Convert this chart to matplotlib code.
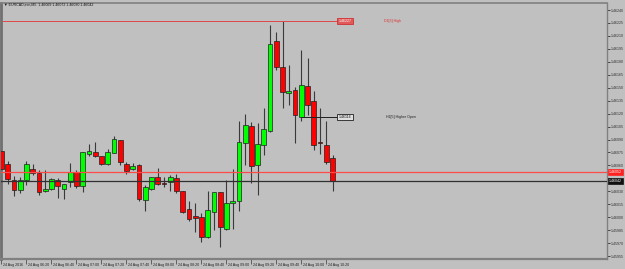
import matplotlib
matplotlib.use("Agg")
import matplotlib.pyplot as plt
import matplotlib.transforms as mtransforms
import numpy as np

plt.rcParams["font.family"] = ["Liberation Sans", "DejaVu Sans"]

# ---- data (EURCAD M5, 24 Aug 2016, from 06:00) ----
opens = [1.46077, 1.46062, 1.46043, 1.46032, 1.46043, 1.46056, 1.46051, 1.46030, 1.46033, 1.46043,
         1.46033, 1.46041, 1.46052, 1.46036, 1.46073, 1.46076, 1.46071, 1.46062, 1.46074, 1.46089,
         1.46062, 1.46056, 1.46061, 1.46020, 1.46033, 1.46047, 1.46040, 1.46041, 1.46045, 1.46030,
         1.46010, 1.46001, 1.46000, 1.45977, 1.46006, 1.46029, 1.45986, 1.46017, 1.46019, 1.46086,
         1.46106, 1.46061, 1.46084, 1.46100, 1.46204, 1.46174, 1.46144, 1.46147, 1.46116, 1.46152,
         1.46135, 1.46087, 1.46084, 1.46069]
highs = [1.46089, 1.46065, 1.46048, 1.46047, 1.46065, 1.46062, 1.46055, 1.46055, 1.46046, 1.46045,
         1.46039, 1.46063, 1.46055, 1.46076, 1.46085, 1.46087, 1.46071, 1.46079, 1.46094, 1.46089,
         1.46064, 1.46063, 1.46062, 1.46037, 1.46047, 1.46057, 1.46047, 1.46049, 1.46050, 1.46030,
         1.46019, 1.46017, 1.46005, 1.46030, 1.46029, 1.46029, 1.46043, 1.46056, 1.46111, 1.46120,
         1.46110, 1.46109, 1.46127, 1.46223, 1.46215, 1.46227, 1.46176, 1.46151, 1.46194, 1.46184,
         1.46146, 1.46127, 1.46111, 1.46072]
lows = [1.46051, 1.46039, 1.46025, 1.46028, 1.46037, 1.46049, 1.46026, 1.46029, 1.46032, 1.46022,
        1.46021, 1.46035, 1.46034, 1.46029, 1.46071, 1.46070, 1.46061, 1.46061, 1.46074, 1.46061,
        1.46050, 1.46055, 1.46019, 1.46007, 1.46032, 1.46037, 1.46035, 1.46030, 1.46028, 1.46005,
        1.45996, 1.45983, 1.45971, 1.45976, 1.45985, 1.45966, 1.45985, 1.45986, 1.46007, 1.46061,
        1.46040, 1.46026, 1.46072, 1.46099, 1.46171, 1.46127, 1.46130, 1.46086, 1.46111, 1.46118,
        1.46078, 1.46073, 1.46062, 1.46030]
closes = [1.46056, 1.46044, 1.46032, 1.46043, 1.46062, 1.46051, 1.46029, 1.46033, 1.46044, 1.46036,
          1.46039, 1.46052, 1.46036, 1.46076, 1.46077, 1.46071, 1.46062, 1.46076, 1.46091, 1.46064,
          1.46054, 1.46059, 1.46021, 1.46035, 1.46047, 1.46039, 1.46039, 1.46047, 1.46030, 1.46006,
          1.45998, 1.45999, 1.45977, 1.46008, 1.46029, 1.45989, 1.46017, 1.46019, 1.46087, 1.46107,
          1.46059, 1.46085, 1.46102, 1.46201, 1.46174, 1.46145, 1.46146, 1.46118, 1.46153, 1.46130,
          1.46084, 1.46086, 1.46064, 1.46042]
time_labels = ["24 Aug 2016", "24 Aug 06:20", "24 Aug 06:40", "24 Aug 07:00", "24 Aug 07:20",
               "24 Aug 07:40", "24 Aug 08:00", "24 Aug 08:20", "24 Aug 08:40", "24 Aug 09:00",
               "24 Aug 09:20", "24 Aug 09:40", "24 Aug 10:00", "24 Aug 10:20"]
ytick_values = [1.45955, 1.45970, 1.45985, 1.46000, 1.46015, 1.46030, 1.46045, 1.46060, 1.46075,
                1.46090, 1.46105, 1.46120, 1.46135, 1.46150, 1.46165, 1.46180, 1.46195, 1.46210,
                1.46225, 1.46240]
ask_price = 1.46052
bid_price = 1.46042
d1_high = 1.46227
h1_open = 1.46116
h1_open_bar = 48
title_text = "EURCAD,ecn,M5  1.46069 1.46072 1.46030 1.46042"

BG = "#c0c0c0"
GRID = "#808080"
FS = 2.6

fig = plt.figure(figsize=(6.25, 2.69), dpi=100, facecolor=BG)
ax = fig.add_axes([1.5 / 625, 1 - 259 / 269, (607 - 1.5) / 625, (259 - 3) / 269])
ax.set_facecolor(BG)

n = len(opens)
x = np.arange(n)
o = np.array(opens); h = np.array(highs); l = np.array(lows); c = np.array(closes)
up = c >= o

# wicks
ax.vlines(x, l, h, color="#3a3a3a", linewidth=0.8, zorder=2)
# bodies
bottoms = np.minimum(o, c)
heights = np.maximum(np.abs(c - o), 0.000012)
cols = np.where(up, "#00ff00", "#ff0000")
ax.bar(x, heights, bottom=bottoms, width=0.76, color=cols, edgecolor="#202020",
       linewidth=0.5, zorder=3)

# scales
px_per_bar = 6.25
ax.set_xlim((1.5 - 1.2) / px_per_bar, (607 - 1.2) / px_per_bar)
ppp = 0.00001158  # price per pixel
ax.set_ylim(1.46240 - 249 * ppp, 1.46240 + 7 * ppp)

# horizontal lines
ax.axhline(ask_price, color="#ff4a4a", linewidth=0.9, zorder=4)
ax.axhline(bid_price, color="#303030", linewidth=0.9, zorder=4)
ax.hlines(d1_high, ax.get_xlim()[0], n - 0.05, color="#e04848", linewidth=0.7, zorder=4)
ax.hlines(h1_open, h1_open_bar, n - 0.05, color="#202020", linewidth=0.7, zorder=4)

# line labels
ax.text(n - 0.05, d1_high, f"{d1_high:.5f}", fontsize=FS, color="white", va="center", ha="left",
        bbox=dict(boxstyle="square,pad=0.35", fc="#e05a5a", ec="#d03030", lw=0.6), zorder=5)
ax.text(n + 7.2, d1_high, "D1[3] High", fontsize=FS, color="#e03030", va="center", ha="left")
ax.text(n - 0.05, h1_open, f"{h1_open:.5f}", fontsize=FS, color="#101010", va="center", ha="left",
        bbox=dict(boxstyle="square,pad=0.35", fc="#e0e0e0", ec="#202020", lw=0.6), zorder=5)
ax.text(n + 7.5, h1_open, "H1[5] Higher Open", fontsize=FS, color="#202020", va="center", ha="left")

# spines
for s in ["top", "right", "bottom"]:
    ax.spines[s].set_color(GRID)
ax.spines["top"].set_linewidth(1.2)
ax.spines["right"].set_linewidth(1.0)
ax.spines["bottom"].set_linewidth(1.6)
ax.spines["left"].set_color("#707070")
ax.spines["left"].set_linewidth(2.0)

# y axis on right
ax.yaxis.tick_right()
ax.set_yticks(ytick_values)
ylabels = []
for v in ytick_values:
    if min(abs(v - ask_price), abs(v - bid_price)) < 0.00007:
        ylabels.append("")
    else:
        ylabels.append(f"{v:.5f}")
ax.set_yticklabels(ylabels)
ax.tick_params(axis="y", direction="out", length=2.2, width=0.6, colors="#303030",
               labelsize=FS, pad=0.8)

# price boxes on right axis
for price, fc in [(ask_price, "#ff2020"), (bid_price, "#101010")]:
    ax.annotate(f"{price:.5f}", xy=(1.0, price), xycoords=("axes fraction", "data"),
                xytext=(1.6, 0), textcoords="offset points", fontsize=FS, color="white",
                va="center", ha="left", annotation_clip=False,
                bbox=dict(boxstyle="square,pad=0.3", fc=fc, ec=fc, lw=0.5), zorder=6)

# x axis
xt = np.arange(0, 4 * len(time_labels), 4)
ax.set_xticks(xt)
ax.set_xticklabels([])
ax.tick_params(axis="x", direction="out", length=3.5, width=0.6, colors="#505050")
trans = mtransforms.blended_transform_factory(ax.transData, ax.transAxes)
for xi, lab in zip(xt, time_labels):
    ax.text(xi + 0.2, -0.022, lab, transform=trans, fontsize=FS, color="#202020",
            ha="left", va="center", clip_on=False)

# title
fig.text(4 / 625, 1 - 5 / 269, "\u25bc " + title_text, fontsize=FS, color="#101010",
         ha="left", va="center")

fig.savefig("out.png", dpi=100, facecolor=BG)
